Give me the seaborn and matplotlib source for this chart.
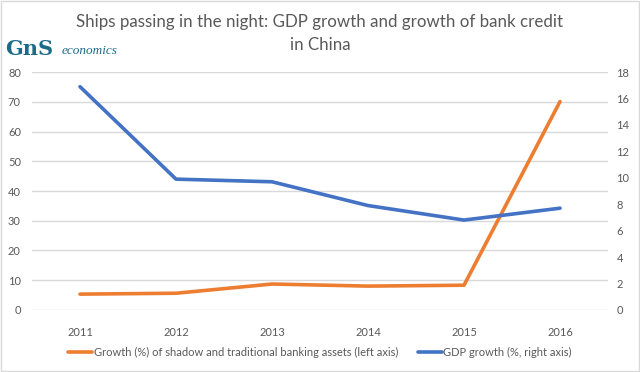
import pandas as pd
import matplotlib.pyplot as plt
import seaborn as sns

years = ["2011", "2012", "2013", "2014", "2015", "2016"]
banking_growth = [5.3, 5.6, 8.7, 8.0, 8.3, 70.1]
gdp_growth = [16.9, 9.9, 9.7, 7.9, 6.8, 7.7]

left_ticks = list(range(0, 81, 10))
right_ticks = list(range(0, 19, 2))

title_lines = ["Ships passing in the night: GDP growth and growth of bank credit",
               "in China"]
label_bank = "Growth (%) of shadow and traditional banking assets (left axis)"
label_gdp = "GDP growth (%, right axis)"

ORANGE = "#ED7D31"
BLUE = "#4472C4"
GREY = "#595959"

sns.set_style("white")
plt.rcParams["font.family"] = ["Lato", "DejaVu Sans"]

df = pd.DataFrame({"year": years, "bank": banking_growth, "gdp": gdp_growth})

fig = plt.figure(figsize=(6.4, 3.72), dpi=100)
ax = fig.add_axes([0.05, 0.167, 0.9, 0.639])
ax2 = ax.twinx()

sns.lineplot(data=df, x="year", y="bank", ax=ax, color=ORANGE, linewidth=2.6,
             sort=False, label=label_bank, legend=False)
sns.lineplot(data=df, x="year", y="gdp", ax=ax2, color=BLUE, linewidth=2.6,
             sort=False, label=label_gdp, legend=False)

ax.set_xlim(-0.5, len(years) - 0.5)
ax.set_ylim(0, 80)
ax.set_yticks(left_ticks)
ax2.set_ylim(0, 18)
ax2.set_yticks(right_ticks)

ax.grid(axis="y", color="#d9d9d9", linewidth=1)
ax.set_axisbelow(True)
for a in (ax, ax2):
    for s in a.spines.values():
        s.set_visible(False)
    a.set_xlabel("")
    a.set_ylabel("")
    a.tick_params(length=0, labelsize=8, colors=GREY)
ax.tick_params(axis="x", pad=12)
ax.tick_params(axis="y", pad=8)
ax2.tick_params(axis="y", pad=6)

# title, one text per line
fig.text(0.5, 0.94, title_lines[0], ha="center", va="center", fontsize=12.2, color=GREY)
fig.text(0.5, 0.878, title_lines[1], ha="center", va="center", fontsize=12.2, color=GREY)

# logo
fig.text(0.008, 0.868, "GnS", fontsize=15, color="#1d6a8a", ha="left", va="center",
         fontweight="bold", family=["DejaVu Serif"])
fig.text(0.096, 0.862, "economics", fontsize=9.5, color="#1d6a8a", ha="left",
         va="center", style="italic", family=["Liberation Serif"])

h1, l1 = ax.get_legend_handles_labels()
h2, l2 = ax2.get_legend_handles_labels()
fig.legend(h1 + h2, l1 + l2, loc="center", bbox_to_anchor=(0.5, 0.053), ncol=2,
           frameon=False, fontsize=8, handlelength=2.2, handletextpad=0.1,
           columnspacing=1.8, labelcolor=GREY)

fig.patches.append(plt.Rectangle((0.002, 0.003), 0.996, 0.994, transform=fig.transFigure,
                                 fill=False, edgecolor="#d9d9d9", linewidth=1))

fig.savefig("out.png", dpi=100)
